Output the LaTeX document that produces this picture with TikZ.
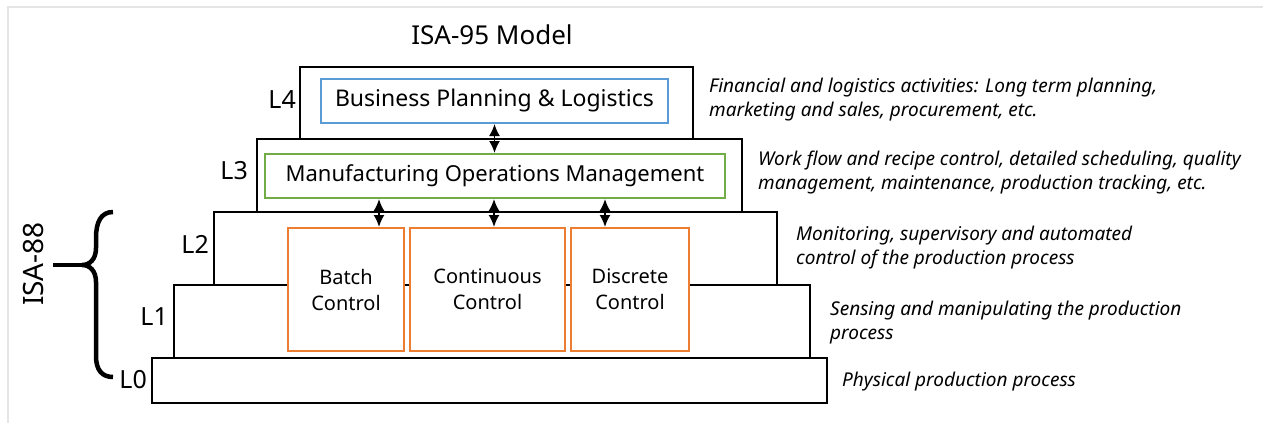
\documentclass[tikz,border=0pt]{standalone}
\usepackage{fontspec}
\setmainfont{Noto Sans}
\usepackage{tikz}
\usetikzlibrary{positioning,arrows,arrows.meta,calc}
\usepackage{xcolor}
\definecolor{bpblue}{HTML}{5B9BD5}
\definecolor{momgreen}{HTML}{70AD47}
\definecolor{ctlorange}{HTML}{ED7D31}

\begin{document}
\begin{tikzpicture}[x=1pt,y=-1pt,
            layer/.style={rectangle,draw=black,line width=2pt,fill=white,inner sep=0pt,anchor=north west},
            inbox/.style={rectangle,line width=2pt,fill=white,inner sep=0pt,anchor=north west,align=center},
            lvl/.style={anchor=east,inner sep=0pt,font=\fontsize{25}{30}\selectfont},
            desc/.style={anchor=west,inner sep=0pt,align=left,font=\fontsize{19}{24}\selectfont\itshape},
            arr/.style={{Latex[length=12pt,width=11pt]}-{Latex[length=12pt,width=11pt]},line width=1.8pt},
            brace/.style={line width=4.5pt}]

            \useasboundingbox (0,0) rectangle (1263,423);
            \draw[black!10,line width=1.2pt] (1263,7) -- (8,7) -- (8,423);

            % title
            \node[font=\fontsize{26}{30}\selectfont] (title) at (492,35) {ISA-95 Model};

            % levels, bottom first
            \node[layer,minimum width=675pt,minimum height=45pt] (lzero) at (151,357) {};
            \node[layer,minimum width=636pt,minimum height=73pt] (lone) at (173,284) {};
            \node[layer,minimum width=563pt,minimum height=73pt] (ltwo) at (213,211) {};
            \node[layer,minimum width=485pt,minimum height=73pt] (lthree) at (256,138) {};
            \node[layer,minimum width=393pt,minimum height=72pt] (lfour) at (299,66) {};

            % inner boxes
            \node[inbox,draw=bpblue,minimum width=347pt,minimum height=44pt,font=\fontsize{23}{28}\selectfont] (bpl) at (320,78) {Business Planning \& Logistics};
            \node[inbox,draw=momgreen,minimum width=460pt,minimum height=44pt,font=\fontsize{22}{28}\selectfont] (mom) at (264,153) {Manufacturing Operations Management};
            \node[inbox,draw=ctlorange,minimum width=116pt,minimum height=123pt,font=\fontsize{20}{26}\selectfont] (batch) at (287,227) {Batch\\Control};
            \node[inbox,draw=ctlorange,minimum width=155pt,minimum height=123pt,font=\fontsize{20}{26}\selectfont] (cont) at (409,227) {Continuous\\Control};
            \node[inbox,draw=ctlorange,minimum width=118pt,minimum height=123pt,font=\fontsize{20}{26}\selectfont] (disc) at (570,227) {Discrete\\Control};

            % arrows
            \draw[arr] (bpl.south) -- (bpl.south |- mom.north);
            \draw[arr] ([xshift=33pt]batch.north) -- ([xshift=33pt]batch.north |- mom.south);
            \draw[arr] ([xshift=6.5pt]cont.north) -- ([xshift=6.5pt]cont.north |- mom.south);
            \draw[arr] ([xshift=-25pt]disc.north) -- ([xshift=-25pt]disc.north |- mom.south);

            % level labels
            \node[lvl] (nfour) at (296,100) {L4};
            \node[lvl] (nthree) at (248,171) {L3};
            \node[lvl] (ntwo) at (209,244) {L2};
            \node[lvl] (none) at (168,317) {L1};
            \node[lvl] (nzero) at (147,380) {L0};

            % descriptions
            \node[desc] (dfour) at (709,100) {Financial and logistics activities: Long term planning,\\marketing and sales, procurement, etc.};
            \node[desc] (dthree) at (758,172.5) {Work flow and recipe control, detailed scheduling, quality\\management, maintenance, production tracking, etc.};
            \node[desc] (dtwo) at (796,248) {Monitoring, supervisory and automated\\control of the production process};
            \node[desc] (done) at (830,323) {Sensing and manipulating the production\\process};
            \node[desc] (dzero) at (842,382) {Physical production process};

            % ISA-88 brace
            \coordinate (tip) at (82,265);
            \draw[brace] (113,212) .. controls (101,212) and (96,222) .. (96,238) -- (96,248) .. controls (96,259) and (90,265) .. (tip) .. controls (90,265) and (96,271) .. (96,282) -- (96,356) .. controls (96,370) and (102,377) .. (113,377);
            \draw[brace] (53,265) -- (tip);
            \node[rotate=90,font=\fontsize{28}{32}\selectfont] (isa) at (34,264) {ISA-88};
\end{tikzpicture}
\end{document}
